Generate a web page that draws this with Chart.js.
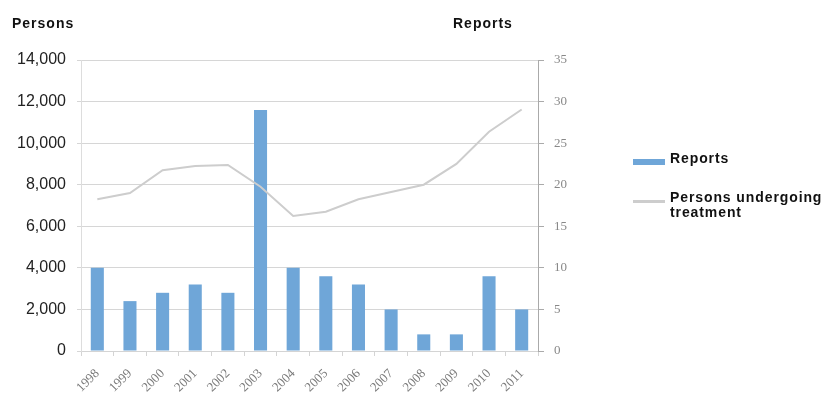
<!DOCTYPE html>
<html>
<head>
<meta charset="utf-8">
<script src="https://cdn.jsdelivr.net/npm/chart.js@4/dist/chart.umd.min.js"></script>
<style>
    body { margin: 0; background: #fff; }
    #wrap { position: relative; width: 836px; height: 399px; }
    .axisTitle { position: absolute; top: 15px; font: bold 14px "Liberation Sans", Arial, sans-serif; letter-spacing: 1px; color: #111; }
    #legend { position: absolute; left: 633px; top: 151px; font: bold 14px "Liberation Sans", Arial, sans-serif; letter-spacing: 0.9px; color: #111; }
    .item { display: flex; align-items: flex-start; line-height: 15px; }
    .swatch { width: 32px; margin-right: 5px; }
</style>
</head>
<body>
<div id="wrap">
    <canvas id="chart" width="836" height="399"></canvas>
    <div class="axisTitle" style="left:12px">Persons</div>
    <div class="axisTitle" style="left:453px">Reports</div>
    <div id="legend"></div>
</div>
<script>
const years = ['1998', '1999', '2000', '2001', '2002', '2003', '2004', '2005', '2006', '2007', '2008', '2009', '2010', '2011'];
const reports = [10, 6, 7, 8, 7, 29, 10, 9, 8, 5, 2, 2, 9, 5];
const persons = [7300, 7600, 8700, 8900, 8950, 7900, 6500, 6700, 7300, 7650, 8000, 9000, 10550, 11620];

const barColor = '#6fa6d8';
const lineColor = '#cdcdcd';

const ctx = document.getElementById('chart');

const chart = new Chart(ctx, {
    data: {
        labels: years,
        datasets: [{
            type: 'line',
            label: 'Persons undergoing treatment',
            data: persons,
            yAxisID: 'yLeft',
            borderColor: lineColor,
            borderWidth: 2,
            pointRadius: 0,
            tension: 0,
            order: 0
        }, {
            type: 'bar',
            label: 'Reports',
            data: reports,
            yAxisID: 'yRight',
            backgroundColor: barColor,
            barPercentage: 0.4,
            categoryPercentage: 1,
            order: 1
        }]
    },
    options: {
        responsive: false,
        animation: false,
        layout: {
            padding: { top: 60, right: 258, left: 0, bottom: 0 }
        },
        plugins: {
            legend: { display: false },
            tooltip: { enabled: false }
        },
        scales: {
            x: {
                grid: {
                    offset: true,
                    drawOnChartArea: false,
                    tickLength: 5,
                    color: '#d4d4d4'
                },
                border: { color: '#d4d4d4' },
                ticks: {
                    minRotation: 45,
                    maxRotation: 45,
                    padding: 10,
                    color: '#7a7a7a',
                    font: { family: 'Liberation Serif', size: 13 }
                },
                afterFit: (axis) => { axis.height = 48; }
            },
            yLeft: {
                position: 'left',
                min: 0,
                max: 14000,
                ticks: {
                    stepSize: 2000,
                    padding: 11,
                    color: '#222',
                    font: { family: 'Liberation Sans', size: 16 },
                    callback: (v) => v.toLocaleString('en-US')
                },
                grid: { color: '#d6d6d6', tickLength: 4 },
                border: { color: '#dddddd' },
                afterFit: (axis) => { axis.width = 81; }
            },
            yRight: {
                position: 'right',
                min: 0,
                max: 35,
                ticks: {
                    stepSize: 5,
                    padding: 10,
                    color: '#888',
                    font: { family: 'Liberation Serif', size: 13 }
                },
                grid: { drawOnChartArea: false, tickLength: 6, color: '#aaa' },
                border: { color: '#aaa' },
                afterFit: (axis) => { axis.width = 40; }
            }
        }
    }
});

// legend built from the datasets
const legend = document.getElementById('legend');
const legendItems = [
    { label: chart.data.datasets[1].label, color: barColor, height: 6, top: 8, gap: 24 },
    { label: 'Persons undergoing<br>treatment', color: lineColor, height: 3, top: 10, gap: 0 }
];
legendItems.forEach((it) => {
    const row = document.createElement('div');
    row.className = 'item';
    row.style.marginBottom = it.gap + 'px';
    row.innerHTML = `<div class="swatch" style="height:${it.height}px;background:${it.color};margin-top:${it.top}px"></div><div>${it.label}</div>`;
    legend.appendChild(row);
});
</script>
</body>
</html>
